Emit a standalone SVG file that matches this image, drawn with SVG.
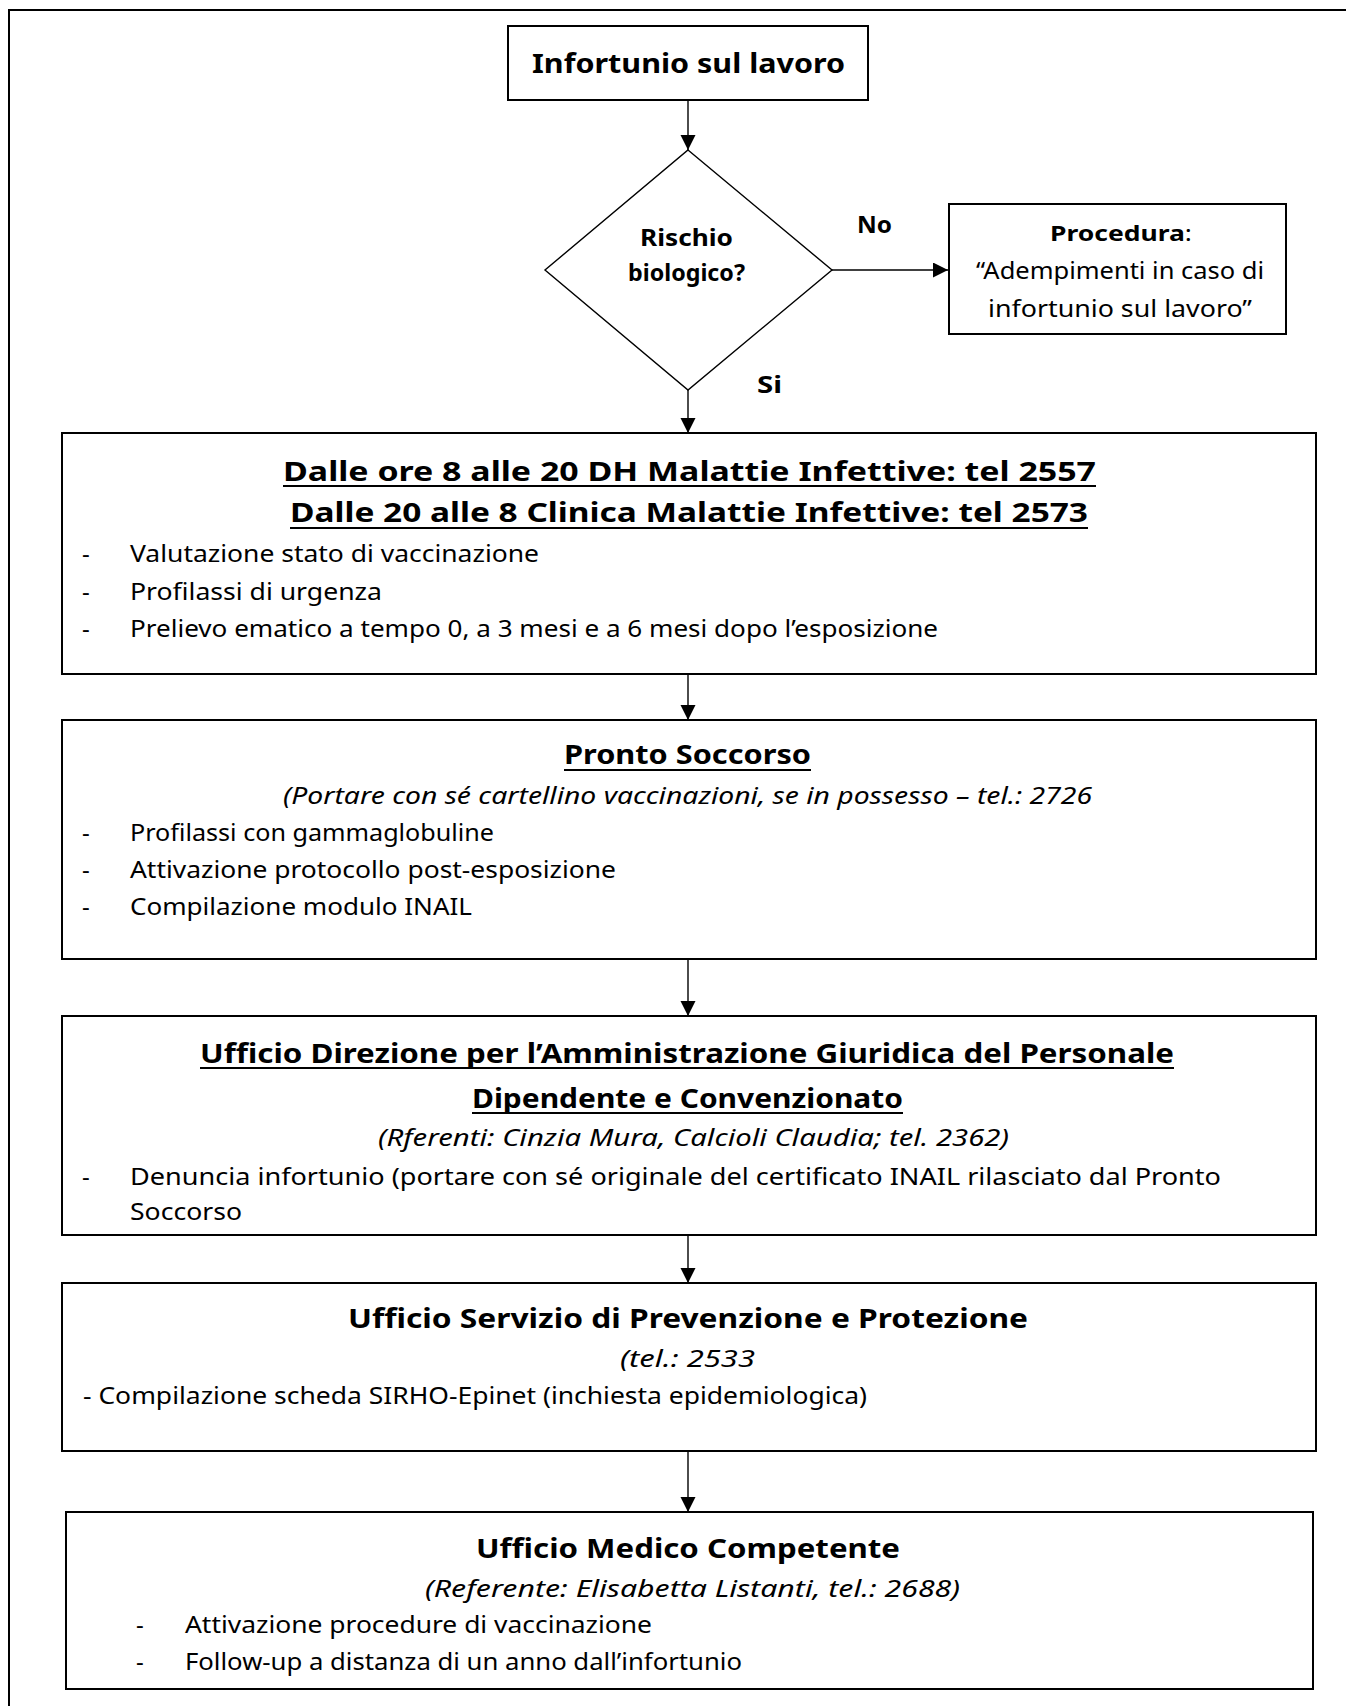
<svg xmlns="http://www.w3.org/2000/svg" width="1346" height="1706" viewBox="0 0 1346 1706">
  <defs>
    <marker id="ah" markerUnits="userSpaceOnUse" markerWidth="16" markerHeight="16" refX="15" refY="7.5" orient="auto">
      <path d="M0,0 L15,7.5 L0,15 Z" fill="#000"/>
    </marker>
    <style>
      text { font-family: "Noto Sans", "DejaVu Sans", sans-serif; fill: #000; }
      .t { font-size: 27px; font-weight: bold; }
      .lbl { font-size: 23px; font-weight: bold; }
      .b { font-size: 24px; }
      .i { font-size: 23px; font-style: italic; }
      .box { fill: #fff; stroke: #000; stroke-width: 2; }
      .ul { stroke: #000; stroke-width: 2; }
      .conn { stroke: #000; stroke-width: 1.4; fill: none; }
    </style>
  </defs>
  <rect width="1346" height="1706" fill="#fff"/>

  <g id="frame">
    <line x1="9" y1="10" x2="1346" y2="10" stroke="#000" stroke-width="2"/>
    <line x1="9" y1="9" x2="9" y2="1706" stroke="#000" stroke-width="2"/>
  </g>

  <g id="connectors">
    <line class="conn" x1="688" y1="100" x2="688" y2="150" marker-end="url(#ah)"/>
    <line class="conn" x1="832" y1="270" x2="948" y2="270" stroke-width="2.2" marker-end="url(#ah)"/>
    <line class="conn" x1="688" y1="390" x2="688" y2="433" marker-end="url(#ah)"/>
    <line class="conn" x1="688" y1="674" x2="688" y2="720" marker-end="url(#ah)"/>
    <line class="conn" x1="688" y1="959" x2="688" y2="1016" marker-end="url(#ah)"/>
    <line class="conn" x1="688" y1="1235" x2="688" y2="1283" marker-end="url(#ah)"/>
    <line class="conn" x1="688" y1="1451" x2="688" y2="1512" marker-end="url(#ah)"/>
    <text class="lbl" x="857" y="233" textLength="35" lengthAdjust="spacingAndGlyphs">No</text>
    <text class="lbl" x="757" y="393" textLength="25" lengthAdjust="spacingAndGlyphs">Si</text>
  </g>

  <g id="start">
    <rect class="box" x="508" y="26" width="360" height="74"/>
    <text class="t" x="532" y="73" textLength="313" lengthAdjust="spacingAndGlyphs">Infortunio sul lavoro</text>
  </g>

  <g id="decision">
    <polygon points="688,150 832,270 688,390 545,270" fill="#fff" stroke="#000" stroke-width="1.4"/>
    <text class="lbl" x="640" y="246" textLength="93" lengthAdjust="spacingAndGlyphs">Rischio</text>
    <text class="lbl" x="628" y="281" textLength="117" lengthAdjust="spacingAndGlyphs">biologico?</text>
  </g>

  <g id="procedura">
    <rect class="box" x="949" y="204" width="337" height="130"/>
    <text x="1050" y="241" font-size="21" textLength="142" lengthAdjust="spacingAndGlyphs"><tspan font-weight="bold">Procedura</tspan>:</text>
    <text class="b" x="976" y="279" textLength="288" lengthAdjust="spacingAndGlyphs">“Adempimenti in caso di</text>
    <text class="b" x="988" y="317" textLength="264" lengthAdjust="spacingAndGlyphs">infortunio sul lavoro”</text>
  </g>

  <g id="malattie-infettive">
    <rect class="box" x="62" y="433" width="1254" height="241"/>
    <text class="t" x="283" y="481" textLength="813" lengthAdjust="spacingAndGlyphs">Dalle ore 8 alle 20 DH Malattie Infettive: tel 2557</text>
    <line class="ul" x1="283" y1="486" x2="1096" y2="486"/>
    <text class="t" x="290" y="522" textLength="798" lengthAdjust="spacingAndGlyphs">Dalle 20 alle 8 Clinica Malattie Infettive: tel 2573</text>
    <line class="ul" x1="290" y1="528" x2="1088" y2="528"/>
    <text class="b" x="82" y="562">-</text>
    <text class="b" x="130" y="562" textLength="409" lengthAdjust="spacingAndGlyphs">Valutazione stato di vaccinazione</text>
    <text class="b" x="82" y="600">-</text>
    <text class="b" x="130" y="600" textLength="252" lengthAdjust="spacingAndGlyphs">Profilassi di urgenza</text>
    <text class="b" x="82" y="637">-</text>
    <text class="b" x="130" y="637" textLength="808" lengthAdjust="spacingAndGlyphs">Prelievo ematico a tempo 0, a 3 mesi e a 6 mesi dopo l’esposizione</text>
  </g>

  <g id="pronto-soccorso">
    <rect class="box" x="62" y="720" width="1254" height="239"/>
    <text class="t" x="564" y="764" textLength="247" lengthAdjust="spacingAndGlyphs">Pronto Soccorso</text>
    <line class="ul" x1="564" y1="770" x2="811" y2="770"/>
    <text class="i" x="283" y="804" textLength="809" lengthAdjust="spacingAndGlyphs">(Portare con sé cartellino vaccinazioni, se in possesso – tel.: 2726</text>
    <text class="b" x="82" y="841">-</text>
    <text class="b" x="130" y="841" textLength="364" lengthAdjust="spacingAndGlyphs">Profilassi con gammaglobuline</text>
    <text class="b" x="82" y="878">-</text>
    <text class="b" x="130" y="878" textLength="486" lengthAdjust="spacingAndGlyphs">Attivazione protocollo post-esposizione</text>
    <text class="b" x="82" y="915">-</text>
    <text class="b" x="130" y="915" textLength="342" lengthAdjust="spacingAndGlyphs">Compilazione modulo INAIL</text>
  </g>

  <g id="ufficio-direzione">
    <rect class="box" x="62" y="1016" width="1254" height="219"/>
    <text class="t" x="200" y="1063" textLength="974" lengthAdjust="spacingAndGlyphs">Ufficio Direzione per l’Amministrazione Giuridica del Personale</text>
    <line class="ul" x1="200" y1="1068" x2="1174" y2="1068"/>
    <text class="t" x="472" y="1108" textLength="431" lengthAdjust="spacingAndGlyphs">Dipendente e Convenzionato</text>
    <line class="ul" x1="472" y1="1113" x2="903" y2="1113"/>
    <text class="i" x="378" y="1146" textLength="631" lengthAdjust="spacingAndGlyphs">(Rferenti:  Cinzia Mura, Calcioli Claudia; tel. 2362)</text>
    <text class="b" x="82" y="1185">-</text>
    <text class="b" x="130" y="1185" textLength="1091" lengthAdjust="spacingAndGlyphs">Denuncia infortunio (portare con sé originale del certificato INAIL rilasciato dal Pronto</text>
    <text class="b" x="130" y="1220" textLength="112" lengthAdjust="spacingAndGlyphs">Soccorso</text>
  </g>

  <g id="prevenzione-protezione">
    <rect class="box" x="62" y="1283" width="1254" height="168"/>
    <text class="t" x="348" y="1328" textLength="680" lengthAdjust="spacingAndGlyphs">Ufficio Servizio di Prevenzione e Protezione</text>
    <text class="i" x="620" y="1367" textLength="135" lengthAdjust="spacingAndGlyphs">(tel.: 2533</text>
    <text class="b" x="83" y="1404" textLength="784" lengthAdjust="spacingAndGlyphs">- Compilazione scheda SIRHO-Epinet (inchiesta epidemiologica)</text>
  </g>

  <g id="medico-competente">
    <rect class="box" x="66" y="1512" width="1247" height="177"/>
    <text class="t" x="476" y="1558" textLength="424" lengthAdjust="spacingAndGlyphs">Ufficio Medico Competente</text>
    <text class="i" x="425" y="1597" textLength="535" lengthAdjust="spacingAndGlyphs">(Referente: Elisabetta Listanti, tel.: 2688)</text>
    <text class="b" x="136" y="1633">-</text>
    <text class="b" x="185" y="1633" textLength="467" lengthAdjust="spacingAndGlyphs">Attivazione procedure di vaccinazione</text>
    <text class="b" x="136" y="1670">-</text>
    <text class="b" x="185" y="1670" textLength="557" lengthAdjust="spacingAndGlyphs">Follow-up a distanza di un anno dall’infortunio</text>
  </g>
</svg>
